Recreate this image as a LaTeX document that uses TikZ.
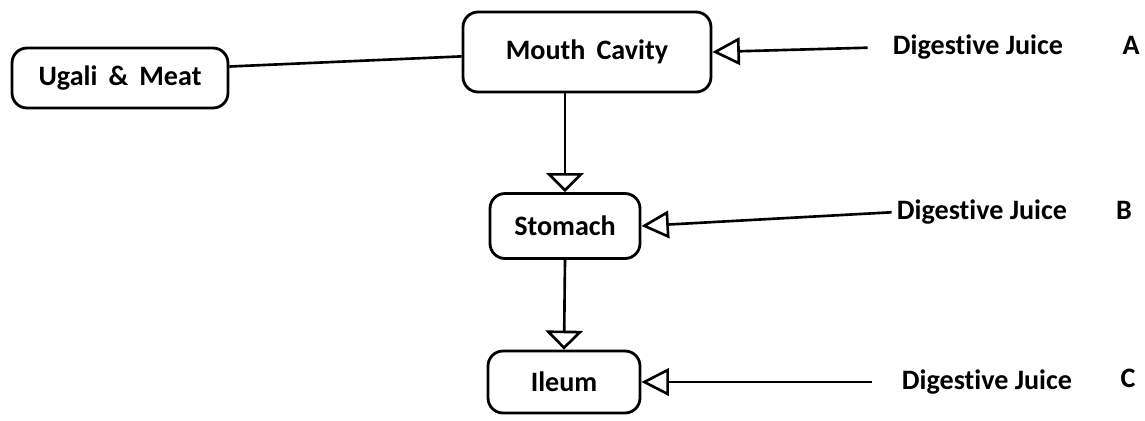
\documentclass[tikz,border=0pt]{standalone}
\usepackage{fontspec}
\setmainfont{Carlito}[Ligatures=NoCommon]
\usepackage{tikz}
\usetikzlibrary{arrows.meta, positioning}

\begin{document}
\begin{tikzpicture}[x=0.02cm, y=-0.02cm,
    every node/.style={font=\fontsize{16}{19}\selectfont\bfseries},
    organ/.style={draw, line width=1.6pt, rounded corners=0.3cm, inner sep=0pt},
    juice/.style={inner sep=0pt},
    feed/.style={line width=1.5pt, -{Triangle[open, length=0.55cm, width=0.55cm]}},
    flow/.style={line width=1.5pt, -{Triangle[open, length=0.38cm, width=0.75cm]}}]
          \useasboundingbox (0,0) rectangle (1145,420);
          \node[organ, minimum width=4.32cm, minimum height=1.2cm] (ugali) at (120,78) {Ugali \,\& \,Meat};
          \node[organ, minimum width=4.96cm, minimum height=1.6cm] (mouth) at (587,52) {Mouth \,Cavity};
          \node[organ, minimum width=3.0cm, minimum height=1.3cm] (stomach) at (565,226) {Stomach};
          \node[organ, minimum width=3.04cm, minimum height=1.24cm] (ileum) at (564,382) {Ileum};
          \node[juice] (juiceA) at (978,47) {Digestive Juice};
          \node[juice] (labA) at (1131,45) {A};
          \node[juice] (juiceB) at (982,212) {Digestive Juice};
          \node[juice] (labB) at (1124,210) {B};
          \node[juice] (juiceC) at (987,382) {Digestive Juice};
          \node[juice] (labC) at (1128,378) {C};
          \draw[line width=1.5pt] (ugali.6) -- (mouth.182);
          \draw[flow] (stomach.north |- mouth.south) -- (stomach.north);
          \draw[flow] (stomach.south) -- (ileum.north);
          \draw[feed, shorten <=0.5cm] (juiceA.west) -- (mouth.east);
          \draw[feed, shorten <=0.1cm] (juiceB.west) -- (stomach.east);
          \draw[feed, shorten <=0.6cm] (juiceC.west) -- (ileum.east);
        \end{tikzpicture}
\end{document}
